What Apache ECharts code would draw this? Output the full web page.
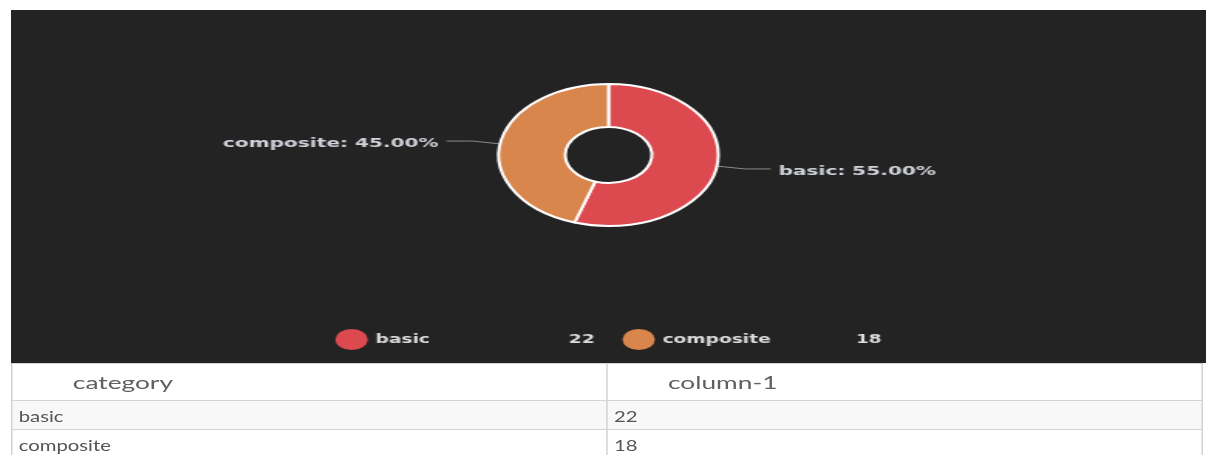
<!DOCTYPE html>
<html>
<head>
<meta charset="utf-8">
<script src="https://cdn.jsdelivr.net/npm/echarts@6/dist/echarts.min.js"></script>
<style>
  html, body { margin: 0; padding: 0; background: #fff; width: 1206px; height: 455px; overflow: hidden; }
  #wrap { position: absolute; left: 11px; top: 10px; width: 773px; transform: scaleX(1.546); transform-origin: 0 0; }
  #chart { width: 773px; height: 353px; background: #232323; }
  table { width: 771px; table-layout: fixed; border-collapse: collapse; font-family: Lato, sans-serif; color: #555; }
  th, td { width: 50%; border: 1px solid #d4d4d4; text-align: left; font-weight: normal; white-space: nowrap; }
  th { height: 36px; font-size: 17px; color: #606060; padding: 0 0 0 39px; background: #fff; }
  td { height: 28px; font-size: 16px; padding: 0 0 0 4px; }
  td span { display: inline-block; transform: scaleX(0.82); transform-origin: 0 50%; }
  tr.odd td { background: #f8f8f8; }
  tr.even td { background: #fff; }
</style>
</head>
<body>
<div id="wrap">
  <div id="chart"></div>
  <table id="tbl"></table>
</div>
<script>
// data
const categories = ['basic', 'composite'];
const values = [22, 18];
const columns = ['category', 'column-1'];
const colors = ['#dc4a50', '#d8864c'];

// table under the chart
const tbl = document.getElementById('tbl');
let html = '<tr>' + columns.map(c => '<th>' + c + '</th>').join('') + '</tr>';
categories.forEach((c, i) => {
  html += '<tr class="' + (i % 2 === 0 ? 'odd' : 'even') + '"><td><span>' + c +
    '</span></td><td><span>' + values[i] + '</span></td></tr>';
});
tbl.innerHTML = html;

const chart = echarts.init(document.getElementById('chart'), null, { renderer: 'canvas' });
const font = 'DejaVu Sans';
chart.setOption({
  animation: false,
  backgroundColor: '#232323',
  color: colors,
  legend: {
    bottom: 8,
    left: 'center',
    icon: 'circle',
    itemWidth: 21,
    itemHeight: 21,
    itemGap: 18,
    itemStyle: { borderWidth: 0 },
    data: categories,
    formatter: name => '{n|' + name + '}{v|' + values[categories.indexOf(name)] + '}',
    textStyle: {
      color: '#dcdcdc',
      fontFamily: font,
      fontSize: 12,
      fontWeight: 'bold',
      rich: {
        n: { width: 125, color: '#dcdcdc', fontFamily: font, fontSize: 12, fontWeight: 'bold' },
        v: { color: '#dcdcdc', fontFamily: font, fontSize: 12, fontWeight: 'bold' }
      }
    }
  },
  series: [{
    type: 'pie',
    center: ['50%', 145],
    radius: [28, 71],
    startAngle: 90,
    clockwise: true,
    itemStyle: { borderColor: '#ffffff', borderWidth: 2 },
    label: {
      formatter: p => p.name + ': ' + p.percent.toFixed(2) + '%',
      color: '#cfd2d8',
      fontFamily: font,
      fontSize: 13,
      fontWeight: 'bold'
    },
    labelLayout: { dy: 3 },
    labelLine: { length: 18, length2: 17, lineStyle: { color: '#8a8a8a', width: 1 } },
    emphasis: { disabled: true },
    data: categories.map((c, i) => ({ name: c, value: values[i] }))
  }]
});
</script>
</body>
</html>
